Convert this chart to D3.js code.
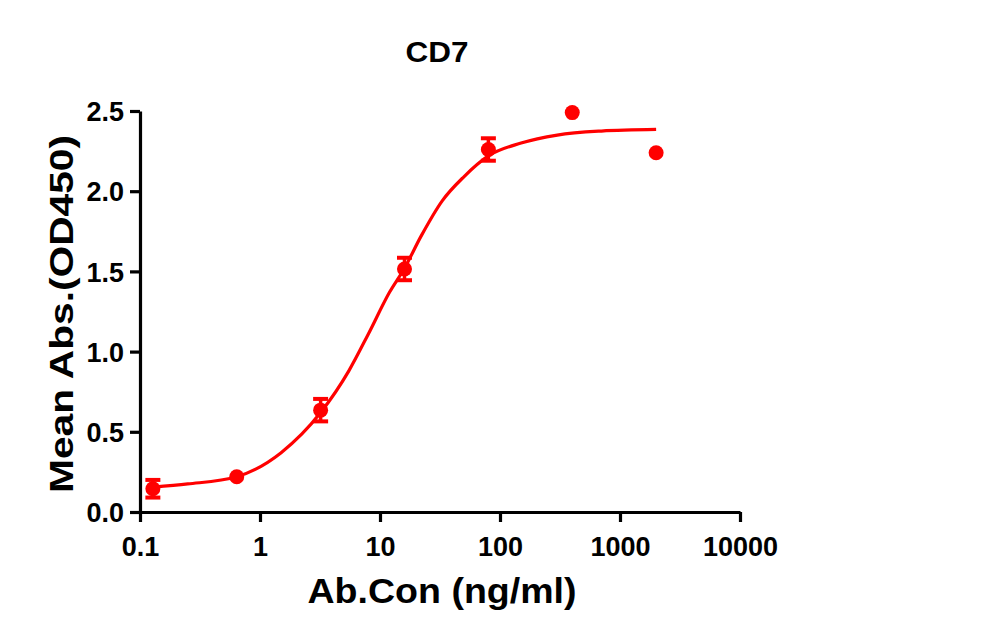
<!DOCTYPE html>
<html>
<head>
<meta charset="utf-8">
<script src="https://cdn.jsdelivr.net/npm/d3@7"></script>
<style>
  body { margin: 0; background: #fff; }
  svg text { font-family: "Liberation Sans", Arial, sans-serif; font-weight: bold; fill: #000; }
</style>
</head>
<body>
<div id="chart"></div>
<script>
// Measured points (concentration in ng/ml, mean OD450, SD)
var conc = [0.128, 0.64, 3.2, 16, 80, 400, 2000];
var meanAbs = [0.145, 0.22, 0.635, 1.515, 2.26, 2.49, 2.24];
var sdAbs = [0.055, 0, 0.07, 0.07, 0.07, 0, 0];

// Fitted curve
var curveConc = [0.128, 0.25, 0.64, 1.5, 3.2, 5.5, 8, 12, 16, 22, 33, 50, 80, 150, 300, 700, 2000];
var curveAbs = [0.155, 0.175, 0.22, 0.37, 0.62, 0.88, 1.11, 1.37, 1.52, 1.72, 1.94, 2.09, 2.22, 2.30, 2.35, 2.375, 2.385];

var xTicks = [0.1, 1, 10, 100, 1000, 10000];
var yTicks = [0, 0.5, 1.0, 1.5, 2.0, 2.5];

var w = 1004;
var h = 642;
var red = "#ff0000";

var svg = d3.select("#chart")
    .append("svg")
    .attr("width", w)
    .attr("height", h);

var xScale = d3.scaleLog()
    .domain([0.1, 10000])
    .range([140, 740]);

var yScale = d3.scaleLinear()
    .domain([0, 2.5])
    .range([512, 111]);

// Axes
var xAxis = d3.axisBottom(xScale)
    .tickValues(xTicks)
    .tickFormat(function (d) { return String(d); })
    .tickSize(10)
    .tickSizeOuter(0);

var yAxis = d3.axisLeft(yScale)
    .tickValues(yTicks)
    .tickFormat(d3.format(".1f"))
    .tickSize(10)
    .tickSizeOuter(0)
    .tickPadding(6);

var gx = svg.append("g")
    .attr("transform", "translate(0," + yScale(0) + ")")
    .call(xAxis);

var gy = svg.append("g")
    .attr("transform", "translate(" + xScale(0.1) + ",0)")
    .call(yAxis);

[gx, gy].forEach(function (g) {
    g.select(".domain").attr("stroke", "#000").attr("stroke-width", 3.2);
    g.selectAll(".tick line").attr("stroke", "#000").attr("stroke-width", 3.2);
    g.selectAll(".tick text")
        .style("font-size", "27px")
        .style("font-family", "'Liberation Sans', Arial, sans-serif")
        .style("font-weight", "bold")
        .attr("fill", "#000");
});
gx.selectAll(".tick text").attr("y", 44).attr("dy", 0);
gy.selectAll(".tick text").attr("dy", "0.36em");

// Fitted curve
var curvePts = curveConc.map(function (c, i) { return [c, curveAbs[i]]; });
var line = d3.line()
    .x(function (d) { return xScale(d[0]); })
    .y(function (d) { return yScale(d[1]); })
    .curve(d3.curveMonotoneX);

svg.append("path")
    .datum(curvePts)
    .attr("d", line)
    .attr("fill", "none")
    .attr("stroke", red)
    .attr("stroke-width", 3.2);

// Error bars
var pts = conc.map(function (c, i) { return { c: c, m: meanAbs[i], sd: sdAbs[i] }; });
var errs = svg.selectAll("g.err")
    .data(pts.filter(function (d) { return d.sd > 0; }))
    .enter()
    .append("g")
    .attr("class", "err");

errs.append("line")
    .attr("x1", function (d) { return xScale(d.c); })
    .attr("x2", function (d) { return xScale(d.c); })
    .attr("y1", function (d) { return yScale(d.m - d.sd); })
    .attr("y2", function (d) { return yScale(d.m + d.sd); })
    .attr("stroke", red)
    .attr("stroke-width", 3.5);

[-1, 1].forEach(function (s) {
    errs.append("line")
        .attr("x1", function (d) { return xScale(d.c) - 7.5; })
        .attr("x2", function (d) { return xScale(d.c) + 7.5; })
        .attr("y1", function (d) { return yScale(d.m + s * d.sd); })
        .attr("y2", function (d) { return yScale(d.m + s * d.sd); })
        .attr("stroke", red)
        .attr("stroke-width", 4);
});

// Markers
svg.selectAll("circle.pt")
    .data(pts)
    .enter()
    .append("circle")
    .attr("class", "pt")
    .attr("cx", function (d) { return xScale(d.c); })
    .attr("cy", function (d) { return yScale(d.m); })
    .attr("r", 7.5)
    .attr("fill", red);

// Titles
svg.append("text")
    .attr("x", 437)
    .attr("y", 62)
    .attr("text-anchor", "middle")
    .attr("textLength", 63)
    .attr("lengthAdjust", "spacingAndGlyphs")
    .style("font-size", "29px")
    .text("CD7");

svg.append("text")
    .attr("x", 442)
    .attr("y", 603)
    .attr("text-anchor", "middle")
    .attr("textLength", 269)
    .attr("lengthAdjust", "spacingAndGlyphs")
    .style("font-size", "35px")
    .text("Ab.Con (ng/ml)");

svg.append("text")
    .attr("transform", "translate(73,314) rotate(-90)")
    .attr("text-anchor", "middle")
    .attr("textLength", 358)
    .attr("lengthAdjust", "spacingAndGlyphs")
    .style("font-size", "33px")
    .text("Mean Abs.(OD450)");
</script>
</body>
</html>
